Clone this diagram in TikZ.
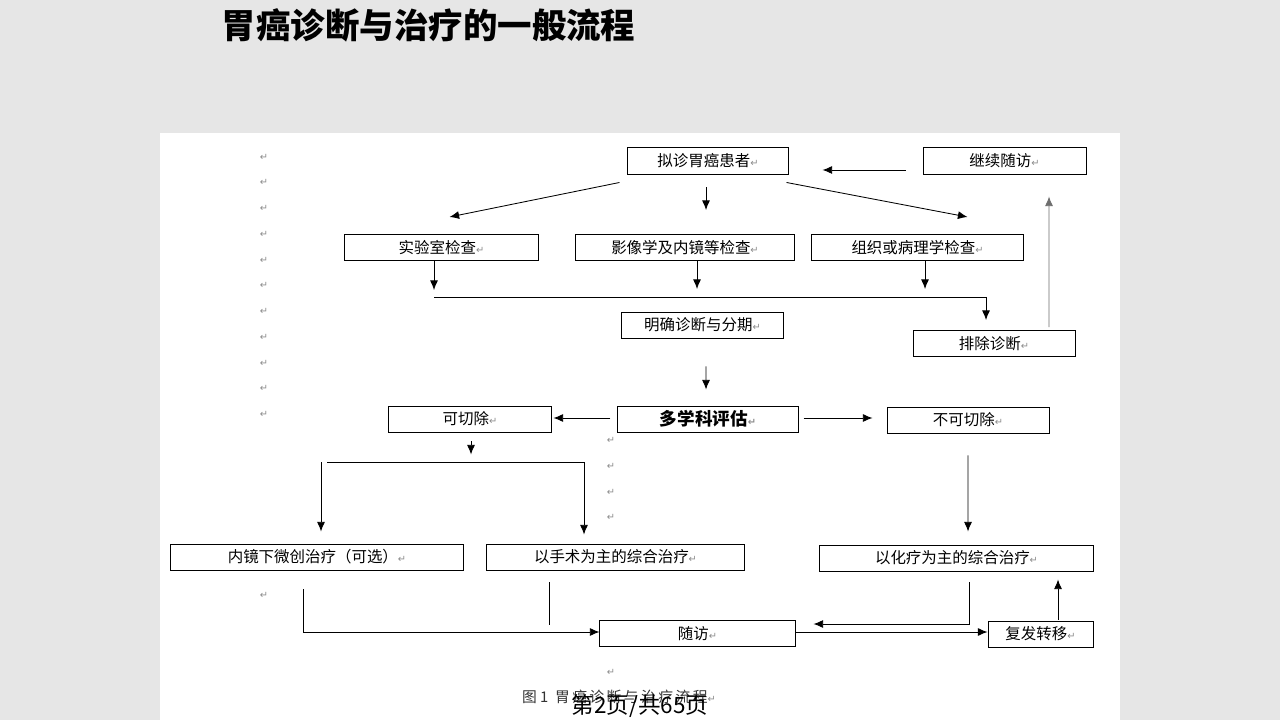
\documentclass[tikz,border=0pt]{standalone}
\usepackage{fontspec}
\setmainfont{Noto Sans CJK SC}
\newfontfamily\markfont{DejaVu Sans}
\usetikzlibrary{calc, arrows.meta}

\definecolor{slidegray}{HTML}{E6E6E6}
\definecolor{markgray}{HTML}{8C8C8C}
\definecolor{linegray}{HTML}{6E6E6E}
\newcommand{\retmark}{{\markfont\color{markgray}\fontsize{7}{8}\selectfont ↵}}

\tikzset{
	flowbox/.style={draw, rectangle, line width=0.7pt, minimum height=0.65cm,
		inner sep=0pt, font=\fontsize{11}{13}\selectfont},
	arr/.style={-{Latex[length=2.4mm, width=2mm]}, line width=0.6pt},
	plain/.style={line width=0.6pt},
}

\begin{document}
\begin{tikzpicture}[x=0.025cm, y=-0.025cm]
	\useasboundingbox (0,0) rectangle (1280,720);
	\fill[slidegray] (0,0) rectangle (1280,720);
	\fill[white] (160,133) rectangle (1120,720);

	\node[anchor=west, font=\fontsize{24.5}{28}\selectfont\bfseries] (title) at (217,25)
		{胃癌诊断与治疗的一般流程};

	% return marks left in the page
	\foreach \y [count=\i] in {157,182,208,234,260,285,311,337,363,388,414,595}
		\node[inner sep=0pt] (lmark\i) at (264,\y) {\retmark};
	\foreach \y [count=\i] in {440,466,492,517,672}
		\node[inner sep=0pt] (rmark\i) at (611,\y) {\retmark};

	% diagnosis
	\node[flowbox, minimum width=4cm]     (suspect) at (708,161)   {拟诊胃癌患者\retmark};
	\node[flowbox, minimum width=4.075cm] (follow)  at (1004.5,161) {继续随访\retmark};
	\node[flowbox, minimum width=4.825cm] (lab)     at (441.5,247.5) {实验室检查\retmark};
	\node[flowbox, minimum width=5.45cm]  (imaging) at (685,247.5)   {影像学及内镜等检查\retmark};
	\node[flowbox, minimum width=5.275cm] (patho)   at (917.5,247.5) {组织或病理学检查\retmark};
	\node[flowbox, minimum width=4.025cm] (staging) at (702.5,325)   {明确诊断与分期\retmark};
	\node[flowbox, minimum width=4.05cm]  (exclude) at (994,343.5)   {排除诊断\retmark};

	% evaluation
	\node[flowbox, minimum width=4.05cm]  (resect)  at (470,419)  {可切除\retmark};
	\node[flowbox, minimum width=4.5cm, font=\fontsize{12.5}{14}\selectfont\bfseries]
		(mdt) at (708,419) {多学科评估\retmark};
	\node[flowbox, minimum width=4.05cm]  (unresect) at (968,420) {不可切除\retmark};

	% treatment
	\node[flowbox, minimum width=7.3cm]   (endo)    at (317,557)    {内镜下微创治疗（可选）\retmark};
	\node[flowbox, minimum width=6.425cm] (surgery) at (615.5,557)  {以手术为主的综合治疗\retmark};
	\node[flowbox, minimum width=6.825cm] (chemo)   at (956.5,558)  {以化疗为主的综合治疗\retmark};
	\node[flowbox, minimum width=4.875cm] (visit)   at (697.5,633.5) {随访\retmark};
	\node[flowbox, minimum width=2.625cm] (relapse) at (1040.5,634) {复发转移\retmark};

	\coordinate (busL) at (434,297);
	\coordinate (busR) at (986,297);
	\coordinate (splitL) at (321,462);
	\coordinate (splitR) at (584,462);

	\draw[arr] ($(suspect.south west)+(-8,8)$) -- ($(lab.north)+(8,-17)$);
	\draw[arr] ($(suspect.south)+(-2,13)$) -- ($(imaging.north)+(21,-24)$);
	\draw[arr] ($(suspect.south east)+(-2,8)$) -- ($(patho.north)+(50,-17)$);
	\draw[arr] ($(follow.west)+(-17,9)$) -- ($(suspect.east)+(34,9)$);
	\draw[arr, linegray] ($(exclude.north)+(55,-3)$) -- ($(follow.south)+(44.5,22)$);

	\draw[arr] (lab.south -| busL) -- ($(busL)+(0,-7)$);
	\draw[arr] ($(imaging.south)+(12,0)$) -- ++(0,28);
	\draw[arr] ($(patho.south)+(7.5,0)$) -- ++(0,28);
	\draw[plain] (busL) -- (busR);
	\draw[arr] (busR) -- ($(exclude.north -| busR)+(0,-10)$);

	\draw[arr] ($(staging.south)+(3.5,28)$) -- ($(mdt.north)+(-2,-16)$);
	\draw[arr] ($(mdt.west)+(-7,-1)$) -- ($(resect.east)+(2,-1)$);
	\draw[arr] ($(mdt.east)+(5,-1)$) -- ($(unresect.west)+(-14,-2)$);

	\draw[arr] ($(resect.south)+(1,9)$) -- ++(0,13);
	\draw[arr] (splitL) -- ($(endo.north -| splitL)+(0,-12)$);
	\draw[plain] ($(splitL)+(6,0)$) -- (splitR);
	\draw[arr] (splitR) -- ($(surgery.north -| splitR)+(0,-9)$);
	\draw[arr] ($(unresect.south)+(0,22)$) -- ($(chemo.north)+(11.5,-13)$);

	\draw[arr] ($(endo.south)+(-14,19)$) |- ($(visit.west)+(0,-1.5)$);
	\draw[plain] ($(surgery.south)+(-66.5,12)$) -- ($(surgery.south)+(-66.5,55)$);
	\draw[arr] ($(chemo.south)+(12.5,11)$) |- ($(visit.east)+(18,-9.5)$);
	\draw[arr] ($(visit.east)+(0,-1.5)$) -- ($(relapse.west)+(0,-2)$);
	\draw[arr] ($(relapse.north)+(17.5,-1)$) -- ($(chemo.south -| relapse.north)+(17.5,8)$);

	% caption and page number
	\node[font=\fontsize{10.5}{12}\selectfont, text=black!80] (caption) at (619,697)
		{图 1 \ 胃\,癌\,诊\,断\,与\,治\,疗\,流\,程\retmark};
	\node[font=\fontsize{16}{18}\selectfont] (pageno) at (640,706) {第2页/共65页};
\end{tikzpicture}
\end{document}
